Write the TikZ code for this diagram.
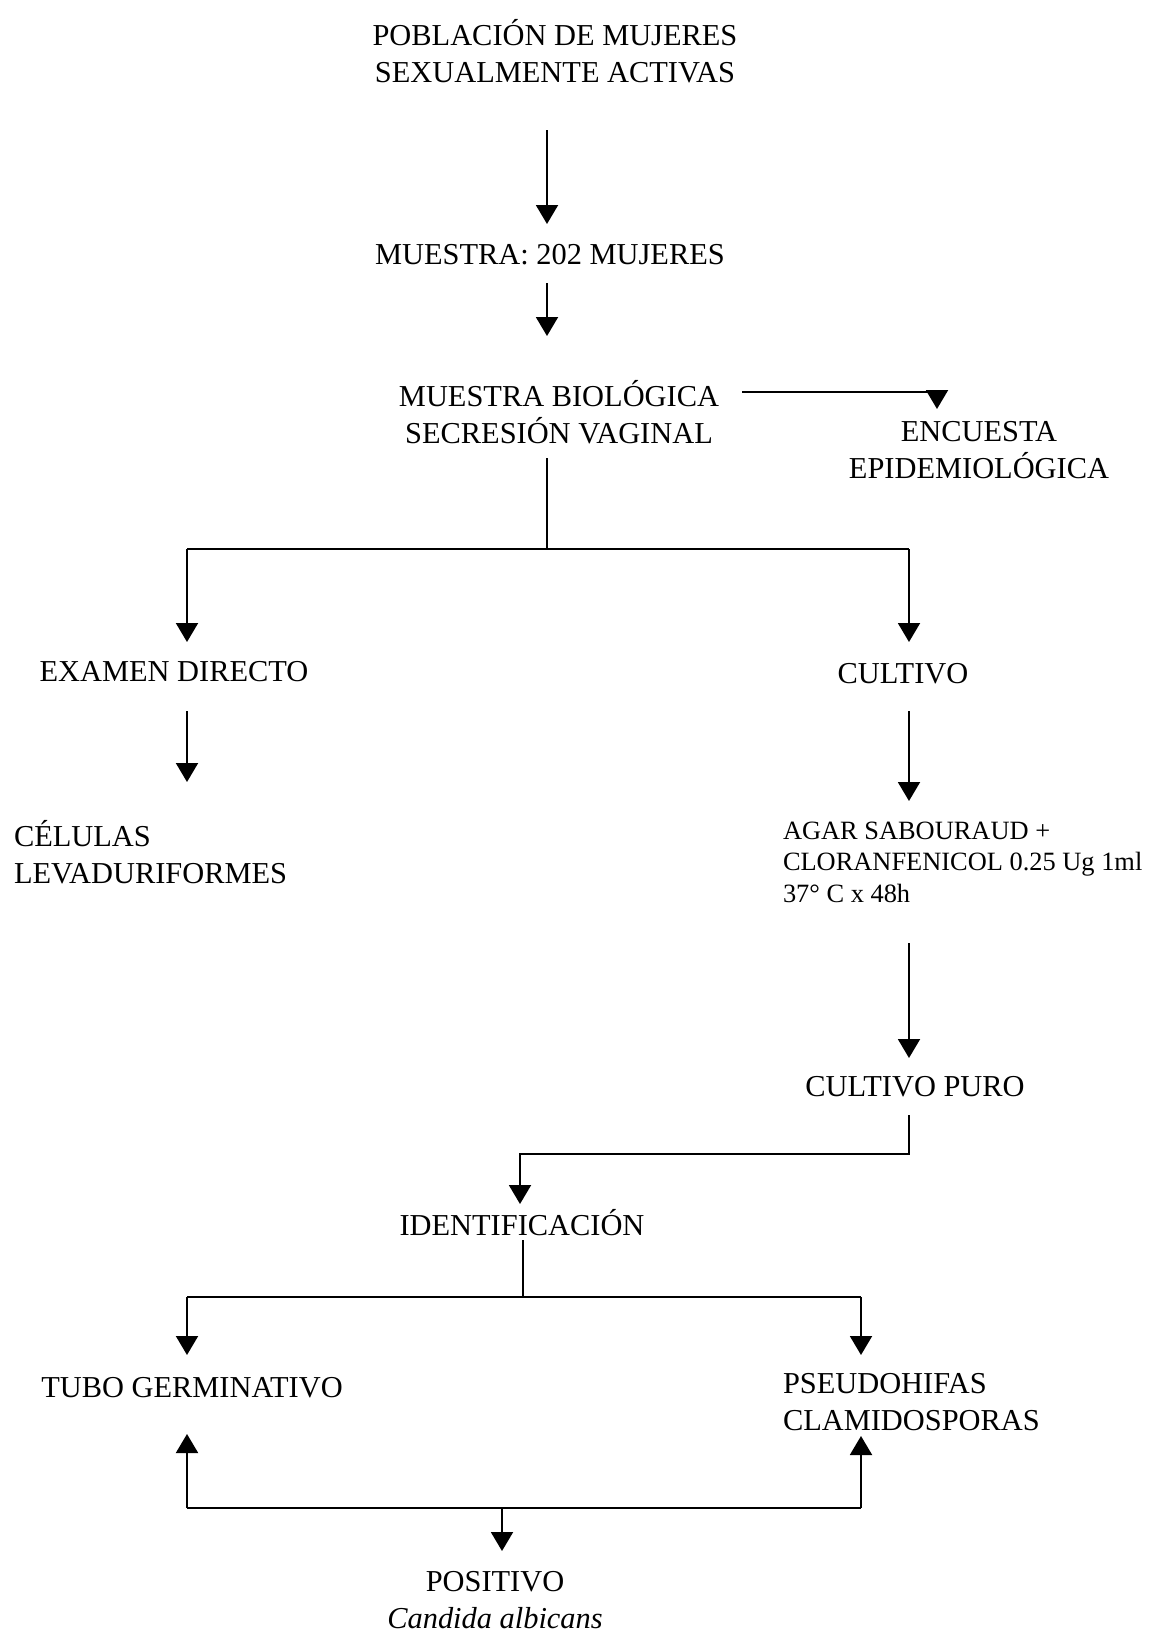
\documentclass[tikz,border=0pt]{standalone}
\usepackage{fontspec}
\setmainfont{Liberation Serif}
\usetikzlibrary{arrows.meta}
\tikzset{
  txt/.style={inner sep=0pt, outer sep=0pt, font=\fontsize{15.2}{18.7}\selectfont, align=center},
  txtl/.style={txt, align=left},
  small/.style={inner sep=0pt, outer sep=0pt, font=\fontsize{13.2}{15.8}\selectfont, align=left},
  ln/.style={line width=1pt, line join=miter},
  arr/.style={ln, -{Triangle[width=11pt,length=9.5pt]}}
}
\begin{document}
\begin{tikzpicture}[x=0.5pt,y=-0.5pt]
\useasboundingbox (0,0) rectangle (1151,1633);
\fill[white] (0,0) rectangle (1151,1633);

% nodes
\node[txt] (pob) at (555,51) {POBLACIÓN DE MUJERES\\SEXUALMENTE ACTIVAS};
\node[txt] (mue) at (550,255) {MUESTRA: 202 MUJERES};
\node[txt] (bio) at (559,412) {MUESTRA BIOLÓGICA\\SECRESIÓN VAGINAL};
\node[txt] (enc) at (979,450) {ENCUESTA\\EPIDEMIOLÓGICA};
\node[txt] (exa) at (174,672) {EXAMEN DIRECTO};
\node[txt] (cul) at (903,674) {CULTIVO};
\node[txtl, anchor=west] (cel) at (14,852) {CÉLULAS\\LEVADURIFORMES};
\node[small, anchor=west] (agar) at (783,862) {AGAR SABOURAUD +\\CLORANFENICOL 0.25 Ug 1ml\\37° C x 48h};
\node[txt] (pur) at (915,1087) {CULTIVO PURO};
\node[txt] (ide) at (522,1223) {IDENTIFICACIÓN};
\node[txt] (tub) at (192,1388) {TUBO GERMINATIVO};
\node[txtl, anchor=west] (pse) at (783,1402) {PSEUDOHIFAS\\CLAMIDOSPORAS};
\node[txt] (pos) at (495,1600) {POSITIVO\\{\itshape Candida albicans}};

% connector points
\coordinate (a1s) at (547,130);  \coordinate (a1e) at (547,224);
\coordinate (a2s) at (547,283);  \coordinate (a2e) at (547,336);
\coordinate (e1) at (742,392);   \coordinate (e2) at (937,409);
\coordinate (b1) at (547,458);   \coordinate (j1) at (547,549);
\coordinate (l1) at (187,549);   \coordinate (r1) at (909,549);
\coordinate (l1e) at (187,642);  \coordinate (r1e) at (909,642);
\coordinate (x1) at (187,711);   \coordinate (x1e) at (187,782);
\coordinate (c1) at (909,711);   \coordinate (c1e) at (909,801);
\coordinate (g1) at (909,943);   \coordinate (g1e) at (909,1058);
\coordinate (p1) at (909,1115);  \coordinate (p1e) at (520,1204);
\coordinate (i1) at (523,1240);  \coordinate (j2) at (523,1297);
\coordinate (l2) at (187,1297);  \coordinate (r2) at (861,1297);
\coordinate (l2e) at (187,1355); \coordinate (r2e) at (861,1355);
\coordinate (l3) at (187,1508);  \coordinate (r3) at (861,1508);
\coordinate (l3e) at (187,1434); \coordinate (r3e) at (861,1436);
\coordinate (m3) at (502,1508);  \coordinate (m3e) at (502,1551);

% connectors
\draw[arr] (a1s) -- (a1e);
\draw[arr] (a2s) -- (a2e);
\draw[arr] (e1) -| (e2);
\draw[ln] (b1) -- (j1);
\draw[ln] (l1) -- (r1);
\draw[arr] (l1) -- (l1e);
\draw[arr] (r1) -- (r1e);
\draw[arr] (x1) -- (x1e);
\draw[arr] (c1) -- (c1e);
\draw[arr] (g1) -- (g1e);
\draw[arr] (p1) |- (520,1154) -- (p1e);
\draw[ln] (i1) -- (j2);
\draw[ln] (l2) -- (r2);
\draw[arr] (l2) -- (l2e);
\draw[arr] (r2) -- (r2e);
\draw[ln] (l3) -- (r3);
\draw[arr] (l3) -- (l3e);
\draw[arr] (r3) -- (r3e);
\draw[arr] (m3) -- (m3e);
\end{tikzpicture}
\end{document}
